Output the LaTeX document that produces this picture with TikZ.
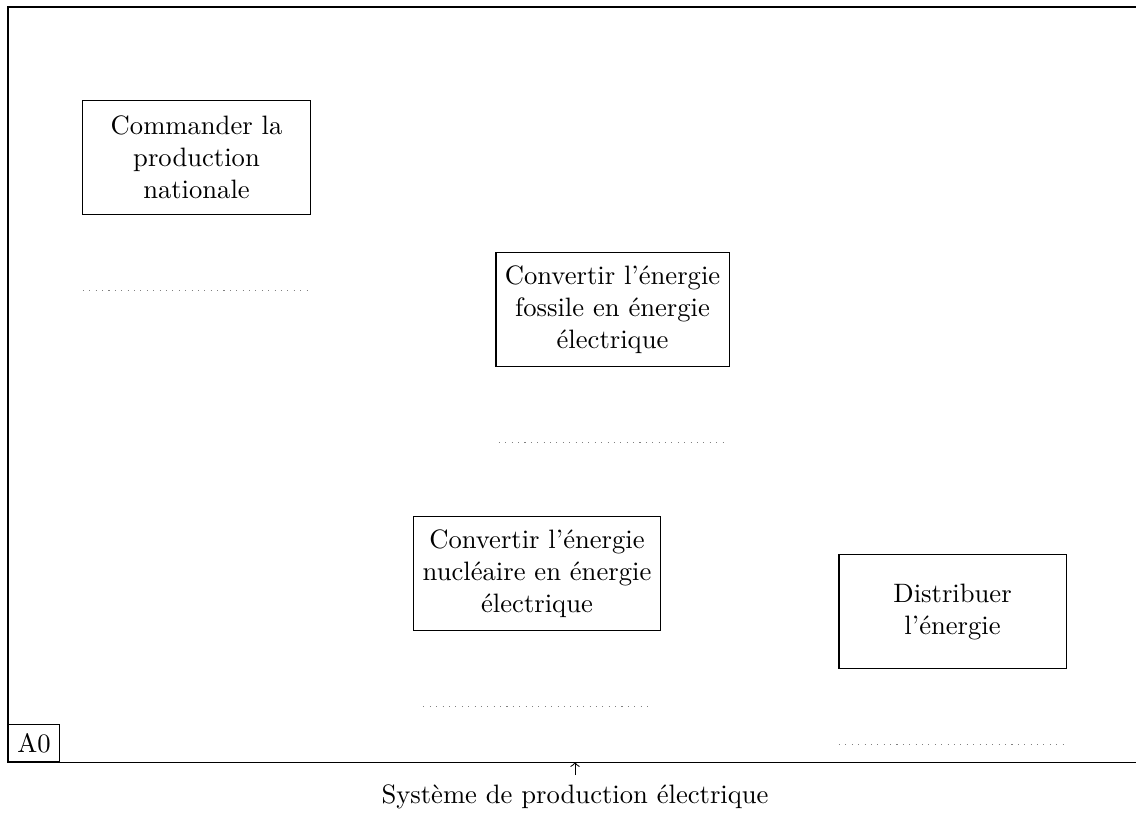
\documentclass[tikz,border=0pt]{standalone}
\begin{document}
\begin{tikzpicture}[
  fn/.style={draw, align=center, minimum width=3cm, minimum height=1.5cm},
  dotline/.style={dotted, gray},
  tag/.style={draw, anchor=south west}
]
\useasboundingbox (0,0) rectangle (15,-10.749);
\clip (0,0) rectangle (15,-10.749);
\coordinate (fnw) at (0.106,-0.092);
\coordinate (fse) at (15.053,-10.062);
\draw (fnw) rectangle (fse);
\node[tag] (a0) at (fnw |- fse) {A0};
\node[fn] (n1) at (2.595,-2.080) {Commander la\\production\\nationale};
\node[fn] (n2) at (8.088,-4.087) {Convertir l'énergie\\fossile en énergie\\électrique};
\node[fn] (n3) at (7.091,-7.573) {Convertir l'énergie\\nucléaire en énergie\\électrique};
\node[fn] (n4) at (12.578,-8.075) {Distribuer\\l'énergie};
\foreach \n in {n1,n2,n3,n4}
  \draw[dotline] ([shift={(-1.5,-1)}]\n.south) -- ([shift={(1.5,-1)}]\n.south);
\node[anchor=north] (lbl) at (7.593,-10.234) {Système de production électrique};
\coordinate (fb) at (lbl.north |- fse);
\draw[->] (lbl.north) -- (fb);
\end{tikzpicture}
\end{document}
